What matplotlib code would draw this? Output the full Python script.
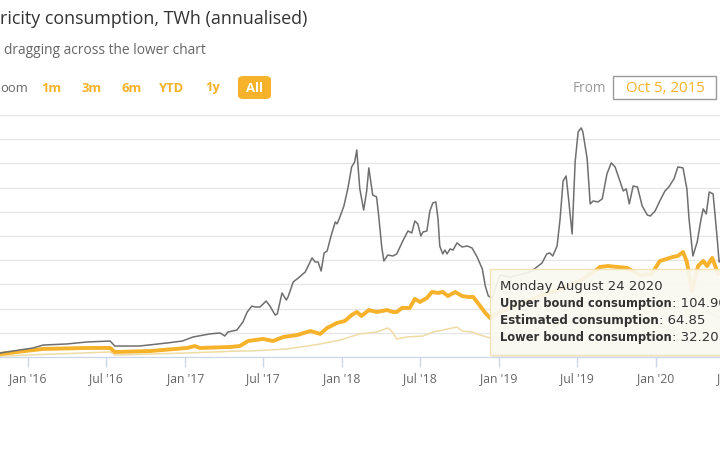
import matplotlib
matplotlib.use("Agg")
import matplotlib.pyplot as plt
import matplotlib.dates as mdates
from matplotlib.patches import FancyBboxPatch, Rectangle
import pandas as pd

# upper bound (TWh, annualised)
upper_dates = ["2015-10-05", "2015-10-28", "2016-01-13", "2016-02-05", "2016-04-01", "2016-05-17",
               "2016-07-10", "2016-07-21", "2016-09-16", "2016-11-20", "2016-12-25", "2017-01-19",
               "2017-02-27", "2017-03-23", "2017-04-03", "2017-04-10", "2017-05-01", "2017-05-15",
               "2017-05-25", "2017-06-05", "2017-06-12", "2017-06-24", "2017-07-08", "2017-07-17",
               "2017-07-29", "2017-08-03", "2017-08-14", "2017-08-24", "2017-08-28", "2017-09-09",
               "2017-09-21", "2017-10-07", "2017-10-23", "2017-10-30", "2017-11-06", "2017-11-13",
               "2017-11-20", "2017-11-27", "2017-12-06", "2017-12-16", "2017-12-20", "2017-12-25",
               "2018-01-05", "2018-01-14", "2018-01-23", "2018-01-30", "2018-02-04", "2018-02-11",
               "2018-02-20", "2018-02-27", "2018-03-04", "2018-03-13", "2018-03-22", "2018-03-27",
               "2018-04-03", "2018-04-08", "2018-04-17", "2018-04-29", "2018-05-08", "2018-05-22",
               "2018-06-03", "2018-06-12", "2018-06-19", "2018-06-26", "2018-07-03", "2018-07-08",
               "2018-07-17", "2018-07-24", "2018-07-31", "2018-08-07", "2018-08-12", "2018-08-16",
               "2018-08-23", "2018-08-28", "2018-09-02", "2018-09-09", "2018-09-16", "2018-09-25",
               "2018-10-07", "2018-10-19", "2018-10-30", "2018-11-11", "2018-11-23", "2018-11-30",
               "2018-12-07", "2018-12-16", "2018-12-23", "2019-01-03", "2019-01-26", "2019-02-25",
               "2019-03-18", "2019-03-30", "2019-04-11", "2019-04-22", "2019-04-29", "2019-05-06",
               "2019-05-16", "2019-05-23", "2019-05-30", "2019-06-06", "2019-06-11", "2019-06-20",
               "2019-06-27", "2019-07-04", "2019-07-11", "2019-07-15", "2019-07-25", "2019-08-01",
               "2019-08-08", "2019-08-19", "2019-08-29", "2019-09-09", "2019-09-19", "2019-09-28",
               "2019-10-10", "2019-10-17", "2019-10-24", "2019-10-31", "2019-11-09", "2019-11-19",
               "2019-11-30", "2019-12-12", "2019-12-19", "2019-12-30", "2020-01-10", "2020-01-22",
               "2020-01-31", "2020-02-12", "2020-02-21", "2020-03-04", "2020-03-13", "2020-03-18",
               "2020-03-27", "2020-04-06", "2020-04-15", "2020-04-20", "2020-04-27", "2020-05-04",
               "2020-05-13", "2020-05-22", "2020-05-27", "2020-06-05", "2020-06-20", "2020-07-10",
               "2020-08-05", "2020-08-24", "2020-09-05"]
upper_vals = [2.0, 2.5, 5.6, 7.4, 8.1, 9.3,
              9.9, 6.8, 6.8, 8.7, 9.9, 12.4,
              14.3, 14.9, 13.0, 15.5, 16.7, 21.7,
              27.9, 31.6, 31.0, 31.0, 34.7, 31.6,
              26.0, 26.7, 39.7, 35.3, 37.2, 46.5,
              49.0, 52.7, 61.4, 58.9, 58.9, 53.3,
              64.5, 65.7, 75.0, 83.7, 82.5, 85.6,
              93.6, 104.2, 117.8, 120.9, 128.3, 104.2,
              91.1, 102.9, 117.2, 100.4, 99.2, 87.4,
              68.2, 59.5, 63.2, 62.6, 63.9, 71.9,
              78.1, 76.9, 84.3, 82.5, 75.0, 77.5,
              78.1, 90.5, 95.5, 96.1, 85.6, 68.8,
              63.9, 66.3, 63.9, 67.0, 66.3, 70.7,
              68.2, 68.8, 67.6, 62.0, 54.6, 44.0,
              37.8, 36.6, 42.2, 50.8, 49.6, 51.5,
              53.3, 55.8, 58.3, 63.9, 64.5, 62.6,
              68.8, 85.6, 109.1, 112.2, 99.8, 76.3,
              120.9, 139.5, 142.0, 139.5, 122.8, 94.9,
              96.7, 96.1, 98.0, 113.5, 120.3, 117.8,
              108.5, 102.9, 104.2, 94.9, 106.0, 105.4,
              93.6, 88.0, 87.4, 90.5, 96.7, 102.9,
              105.4, 110.4, 117.8, 117.2, 104.2, 85.6,
              62.6, 71.3, 85.6, 91.8, 88.7, 102.3,
              101.1, 75.0, 58.9, 62.0, 85.0, 95.0,
              100.0, 104.9, 103.0]

# estimated consumption
est_dates = ["2015-10-05", "2015-10-28", "2016-02-05", "2016-05-17", "2016-07-10", "2016-07-21",
             "2016-10-11", "2017-01-05", "2017-01-23", "2017-02-04", "2017-04-15", "2017-05-08",
             "2017-05-27", "2017-07-01", "2017-07-24", "2017-08-17", "2017-09-18", "2017-10-19",
             "2017-11-11", "2017-11-27", "2017-12-20", "2018-01-07", "2018-01-23", "2018-02-04",
             "2018-02-15", "2018-03-04", "2018-03-22", "2018-04-15", "2018-04-29", "2018-05-08",
             "2018-05-20", "2018-06-07", "2018-06-19", "2018-07-01", "2018-07-17", "2018-07-29",
             "2018-08-12", "2018-08-23", "2018-09-04", "2018-09-21", "2018-10-07", "2018-10-21",
             "2018-11-02", "2018-11-18", "2018-11-30", "2018-12-11", "2019-01-03", "2019-02-19",
             "2019-04-06", "2019-05-23", "2019-07-08", "2019-08-12", "2019-08-24", "2019-09-11",
             "2019-10-26", "2019-11-25", "2019-12-22", "2020-01-10", "2020-01-26", "2020-02-09",
             "2020-02-21", "2020-03-04", "2020-03-13", "2020-03-25", "2020-04-08", "2020-04-20",
             "2020-04-29", "2020-05-11", "2020-05-18", "2020-05-25", "2020-06-10", "2020-07-01",
             "2020-08-01", "2020-08-24", "2020-09-05"]
est_vals = [1.2, 1.9, 5.0, 5.6, 5.6, 3.1,
            3.7, 5.6, 6.8, 5.6, 6.2, 6.8,
            9.9, 11.2, 9.9, 12.4, 13.6, 16.1,
            14.3, 18.0, 21.1, 22.3, 26.0, 27.9,
            25.4, 29.1, 27.9, 29.1, 27.9, 27.9,
            30.4, 30.4, 36.0, 34.1, 36.6, 40.3,
            39.7, 40.3, 37.8, 40.3, 37.8, 37.2,
            37.2, 31.6, 27.3, 24.2, 27.9, 32.9,
            37.8, 42.2, 47.1, 53.3, 55.8, 56.4,
            55.2, 50.8, 51.5, 59.5, 60.8, 62.0,
            62.6, 65.1, 58.9, 40.9, 56.4, 59.5,
            56.4, 61.4, 56.4, 51.5, 55.0, 60.0,
            63.0, 64.85, 64.0]

# lower bound
low_dates = ["2015-10-05", "2015-10-28", "2016-07-10", "2016-07-21", "2017-01-05", "2017-05-08",
             "2017-05-30", "2017-08-26", "2017-10-12", "2017-11-11", "2017-12-27", "2018-02-11",
             "2018-03-22", "2018-04-17", "2018-04-26", "2018-05-08", "2018-05-31", "2018-07-08",
             "2018-07-31", "2018-08-23", "2018-09-25", "2018-10-07", "2018-10-30", "2018-11-18",
             "2018-12-11", "2019-01-26", "2019-04-06", "2019-06-15", "2019-08-24", "2019-11-02",
             "2020-01-10", "2020-03-04", "2020-03-25", "2020-04-24", "2020-05-25", "2020-07-01",
             "2020-08-24", "2020-09-05"]
low_vals = [0.6, 0.6, 3.1, 1.2, 2.5, 3.7,
            3.7, 5.0, 6.8, 8.1, 10.5, 14.3,
            15.5, 18.0, 16.1, 11.2, 12.4, 13.0,
            15.5, 16.7, 18.6, 16.1, 15.5, 13.6,
            11.8, 13.6, 17.4, 22.3, 26.0, 25.4,
            29.1, 31.0, 22.3, 28.5, 24.8, 29.0,
            32.2, 32.0]

range_buttons = ["1m", "3m", "6m", "YTD", "1y", "All"]
tooltip_title = "Monday August 24 2020"
tooltip_rows = [("Upper bound consumption", "104.90"),
                ("Estimated consumption", "64.85"),
                ("Lower bound consumption", "32.20")]

W, H = 720, 460
GOLD = "#f5b22a"
FONT = ["Open Sans", "DejaVu Sans"]
TIP_FONT = ["DejaVu Sans"]

def fx(x):
    return x / W

def fy(y):
    return 1 - y / H

fig = plt.figure(figsize=(7.2, 4.6), dpi=100)
fig.patch.set_facecolor("white")

# plot area: Oct 5 2015 sits a bit left of the visible crop
start = pd.Timestamp("2015-10-05")
end = pd.Timestamp("2020-09-05")
px_per_day = 0.4298
left_px = 28 - (pd.Timestamp("2016-01-01") - start).days * px_per_day
right_px = 28 + (end - pd.Timestamp("2016-01-01")).days * px_per_day
ax = fig.add_axes([fx(left_px), fy(358), (right_px - left_px) / W, (358 - 116) / H])
ax.set_facecolor("none")

ax.plot(pd.to_datetime(low_dates), low_vals, color="#eedba6", lw=1.1, zorder=2)
ax.plot(pd.to_datetime(est_dates), est_vals, color=GOLD, lw=2.8, zorder=3,
        solid_joinstyle="round")
ax.plot(pd.to_datetime(upper_dates), upper_vals, color="#6f6f6f", lw=1.1, zorder=4)

ax.set_xlim(start, end)
ax.set_ylim(0, 150)
ax.set_yticks(range(0, 151, 15))
ax.yaxis.grid(True, color="#e6e6e6", lw=1)
ax.tick_params(axis="y", left=False, labelleft=False)
ax.xaxis.set_major_locator(mdates.MonthLocator(bymonth=[1, 7]))
ax.xaxis.set_major_formatter(mdates.DateFormatter("%b '%y"))
ax.tick_params(axis="x", length=7, width=1, color="#ccd6eb", labelcolor="#666666",
               labelsize=8.8, pad=3)
for lab in ax.get_xticklabels():
    lab.set_family(FONT)
for s in ["top", "left", "right"]:
    ax.spines[s].set_visible(False)
ax.spines["bottom"].set_color("#ccd6eb")
ax.set_axisbelow(True)

# header texts
fig.text(fx(0), fy(19), "ricity consumption, TWh (annualised)", fontsize=12.9,
         color="#333333", family=FONT, va="center", ha="left")
fig.text(fx(4), fy(50), "dragging across the lower chart", fontsize=9.9,
         color="#666666", family=FONT, va="center", ha="left")

# range selector
fig.text(fx(0), fy(88), "oom", fontsize=9.4, color="#666666", family=FONT,
         va="center", ha="left")
btn_x = [51, 92, 132, 172, 213, 254]
for lab, bx in zip(range_buttons, btn_x):
    if lab == "All":
        fig.patches.append(FancyBboxPatch((fx(238), fy(100)), fx(33), (100 - 77) / H,
                                          boxstyle="round,pad=0,rounding_size=0.008",
                                          transform=fig.transFigure, facecolor=GOLD,
                                          edgecolor="none"))
        fig.text(fx(bx), fy(88), lab, fontsize=9.4, color="white", weight="bold",
                 family=FONT, va="center", ha="center")
    else:
        fig.text(fx(bx), fy(88), lab, fontsize=9.4, color=GOLD, weight="bold",
                 family=FONT, va="center", ha="center")

fig.text(fx(606), fy(88), "From", fontsize=9.8, color="#999999", family=FONT,
         va="center", ha="right")
fig.patches.append(Rectangle((fx(613), fy(100)), fx(103), (100 - 77) / H,
                             transform=fig.transFigure, facecolor="white",
                             edgecolor="#9a9a9a", lw=1))
fig.text(fx(665), fy(88), "Oct 5, 2015", fontsize=10.8, color=GOLD, family=FONT,
         va="center", ha="center")

# tooltip
fig.patches.append(Rectangle((fx(492), fy(358)), fx(240), (358 - 272) / H,
                             transform=fig.transFigure, facecolor="#d0d0d0",
                             edgecolor="none", alpha=0.35, zorder=5))
fig.patches.append(Rectangle((fx(490), fy(356)), fx(240), (356 - 270) / H,
                             transform=fig.transFigure, facecolor="#fbfaf2",
                             edgecolor="#f0dfae", lw=1, alpha=0.88, zorder=6))
fig.text(fx(500), fy(287), tooltip_title, fontsize=9.5, color="#333333", family=TIP_FONT,
         va="center", ha="left", zorder=7)
for i, (name, val) in enumerate(tooltip_rows):
    y = 304 + i * 16.7
    t = fig.text(fx(500), fy(y), name, fontsize=9.5, color="#333333", weight="bold",
                 stretch="condensed", family=TIP_FONT, va="center", ha="left", zorder=7)
    fig.canvas.draw()
    bb = t.get_window_extent()
    # squeeze the bold label to the width it has in the original
    if bb.width > 175 * len(name) / 23:
        t.set_fontsize(9.5 * (172 * len(name) / 23) / bb.width)
        fig.canvas.draw()
        bb = t.get_window_extent()
    fig.text(bb.x1 / W, fy(y), ": " + val, fontsize=9.5, color="#333333", family=TIP_FONT,
             va="center", ha="left", zorder=7)

fig.savefig("out.png", dpi=100)
